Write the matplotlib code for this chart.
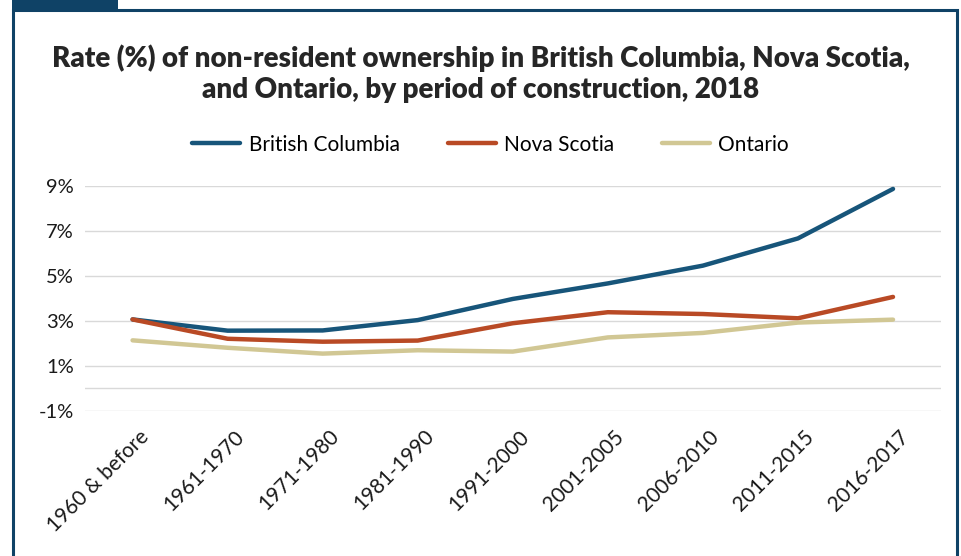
import matplotlib
matplotlib.use("Agg")
import matplotlib.pyplot as plt
from matplotlib.patches import Rectangle
from matplotlib.lines import Line2D
import matplotlib.transforms as mtransforms

plt.rcParams['font.family'] = ['Lato', 'DejaVu Sans']

periods = ["1960 & before", "1961-1970", "1971-1980", "1981-1990", "1991-2000",
           "2001-2005", "2006-2010", "2011-2015", "2016-2017"]
british_columbia = [3.07, 2.57, 2.58, 3.04, 3.98, 4.67, 5.46, 6.67, 8.87]
nova_scotia = [3.07, 2.21, 2.08, 2.13, 2.90, 3.39, 3.31, 3.12, 4.07]
ontario = [2.14, 1.81, 1.55, 1.70, 1.64, 2.27, 2.47, 2.93, 3.06]
yticks = [-1, 1, 3, 5, 7, 9]

colors = {"British Columbia": "#17557A", "Nova Scotia": "#B94A25", "Ontario": "#D1C794"}
frame_col = "#0F4266"

fig = plt.figure(figsize=(9.62, 5.56), dpi=100)
ax = fig.add_axes([0.0884, 0.2608, 0.8893, 0.4047])

x = range(len(periods))
for name, vals in [("British Columbia", british_columbia),
                   ("Nova Scotia", nova_scotia),
                   ("Ontario", ontario)]:
    ax.plot(x, vals, color=colors[name], lw=3.2, solid_capstyle='round',
            solid_joinstyle='round', label=name, zorder=3)

ax.set_xlim(-0.5, len(periods) - 0.5)
ax.set_ylim(-1, 9)
ax.set_yticks(yticks)
ax.set_yticklabels([f"{v}%" for v in yticks], fontsize=14.5, color="#1a1a1a")
for v in yticks + [0]:
    ax.axhline(v, color="#d9d9d9", lw=1.0, zorder=1)
ax.tick_params(axis='y', length=0, pad=8)
ax.tick_params(axis='x', length=0, pad=11)
ax.set_xticks(list(x))
ax.set_xticklabels(periods, rotation=45, ha='right', va='top',
                   rotation_mode='anchor', fontsize=15, color="#1a1a1a")
offset = mtransforms.ScaledTranslation(6 / 100, 0, fig.dpi_scale_trans)
for lbl in ax.get_xticklabels():
    lbl.set_transform(lbl.get_transform() + offset)
for s in ax.spines.values():
    s.set_visible(False)

fig.text(0.5, 0.868, "Rate (%) of non-resident ownership in British Columbia, Nova Scotia,\n"
         "and Ontario, by period of construction, 2018",
         ha='center', va='center', fontsize=20, fontweight='heavy',
         color="#262626", linespacing=1.22)

handles = [Line2D([], [], color=colors[n], lw=3.2, solid_capstyle='round') for n in colors]
fig.legend(handles, list(colors), loc='center', bbox_to_anchor=(0.51, 0.74),
           ncol=3, frameon=False, fontsize=15, handlelength=2.3,
           columnspacing=2.3, handletextpad=0.4)

# frame around the chart
fig.add_artist(Rectangle((13 / 962, -0.05), (957 - 13) / 962, 1 - 10 / 556 + 0.05,
                         transform=fig.transFigure, fill=False,
                         edgecolor=frame_col, lw=2.2))
fig.add_artist(Rectangle((12 / 962, 1 - 11 / 556), (118 - 12) / 962, 11 / 556,
                         transform=fig.transFigure, facecolor=frame_col,
                         edgecolor='none'))

fig.savefig("out.png", dpi=100)
